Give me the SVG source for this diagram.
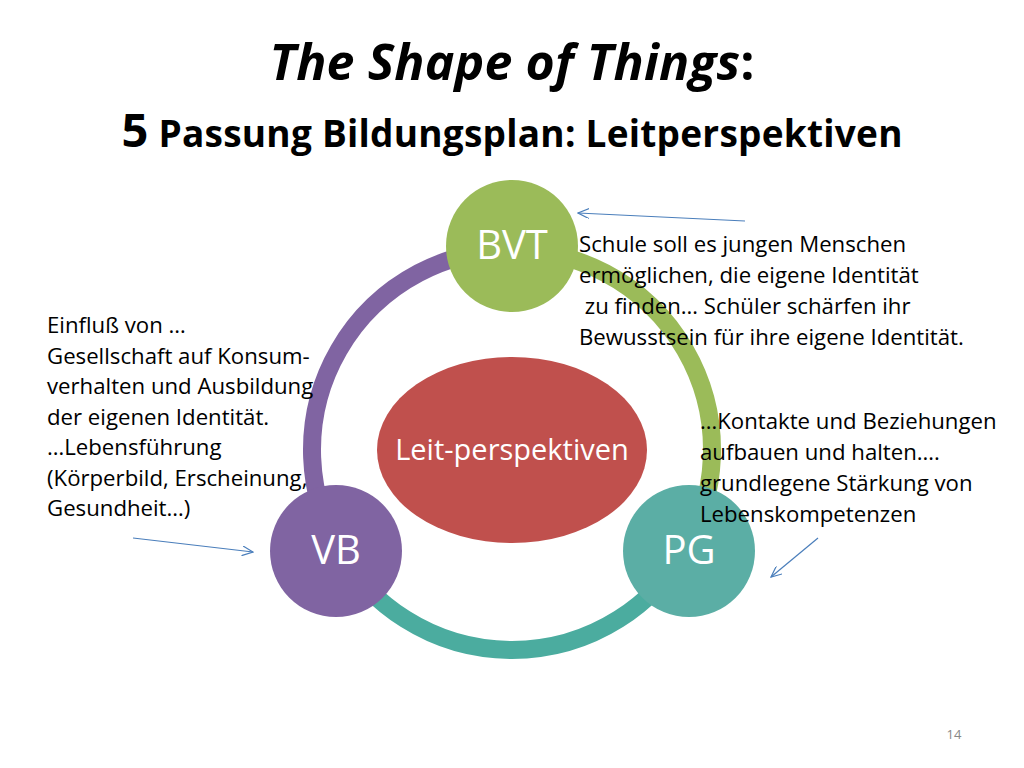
<svg xmlns="http://www.w3.org/2000/svg" width="1024" height="768" viewBox="0 0 1024 768">
<style>
text{font-family:"Open Sans","Liberation Sans",sans-serif;fill:#000}
.b{font-size:22.2px}
.n{font-size:40px;fill:#fff;text-anchor:middle}
.arc{fill:none;stroke-width:18}
.ar{stroke:#4a7ebb;stroke-width:1.2;fill:none;marker-end:url(#m)}
</style>
<defs><marker id="m" markerWidth="12" markerHeight="10" refX="11" refY="5" orient="auto" markerUnits="userSpaceOnUse"><path d="M0,0 L11,5 L0,10" fill="none" stroke="#4a7ebb" stroke-width="1.2"/></marker></defs>
<rect width="1024" height="768" fill="#fff"/>
<text x="512" y="80" text-anchor="middle" font-size="50" font-weight="bold" font-style="italic" textLength="485">The Shape of Things<tspan font-style="normal">:</tspan></text>
<text x="512" y="147" text-anchor="middle" font-weight="bold" font-size="37" textLength="781"><tspan font-size="47">5</tspan> Passung Bildungsplan: Leitperspektiven</text>
<g id="connectors">
<path class="arc" stroke="#8064a2" d="M338.8,550 A200,200 0 0 1 512,250"/>
<path class="arc" stroke="#9bbb59" d="M512,250 A200,200 0 0 1 685.2,550"/>
<path class="arc" stroke="#4bac9f" d="M685.2,550 A200,200 0 0 1 338.8,550"/>
<path class="ar" d="M745,221 L578,213"/>
<path class="ar" d="M133,538 L253,552"/>
<path class="ar" d="M818,538 L771,577"/>
</g>
<g id="leit"><ellipse cx="512" cy="450" rx="135" ry="93" fill="#c0504d"/><text x="512" y="460" font-size="29" fill="#fff" style="fill:#fff" text-anchor="middle">Leit-perspektiven</text></g>
<g id="bvt"><circle cx="512" cy="246" r="66" fill="#9bbb59"/><text class="n" x="512" y="259" style="fill:#fff">BVT</text></g>
<g id="vb"><circle cx="336" cy="551" r="66" fill="#8064a2"/><text class="n" x="336" y="564" style="fill:#fff">VB</text></g>
<g id="pg"><circle cx="689" cy="551" r="66" fill="#5baea5"/><text class="n" x="689" y="564" style="fill:#fff">PG</text></g>
<text class="b" x="579" y="252">Schule soll es jungen Menschen<tspan x="579" dy="31">ermöglichen, die eigene Identität</tspan><tspan x="579" dy="31"> zu finden… Schüler schärfen ihr</tspan><tspan x="579" dy="31">Bewusstsein für ihre eigene Identität.</tspan></text>
<text class="b" x="47" y="333">Einfluß von …<tspan x="47" dy="30.5">Gesellschaft auf Konsum-</tspan><tspan x="47" dy="30.5">verhalten und Ausbildung</tspan><tspan x="47" dy="30.5">der eigenen Identität.</tspan><tspan x="47" dy="30.5">…Lebensführung</tspan><tspan x="47" dy="30.5">(Körperbild, Erscheinung,</tspan><tspan x="47" dy="30.5">Gesundheit…)</tspan></text>
<text class="b" x="700" y="429">…Kontakte und Beziehungen<tspan x="700" dy="31">aufbauen und halten….</tspan><tspan x="700" dy="31">grundlegene Stärkung von</tspan><tspan x="700" dy="31">Lebenskompetenzen</tspan></text>
<text x="954" y="739" font-size="13" style="fill:#888" text-anchor="middle">14</text>
</svg>
